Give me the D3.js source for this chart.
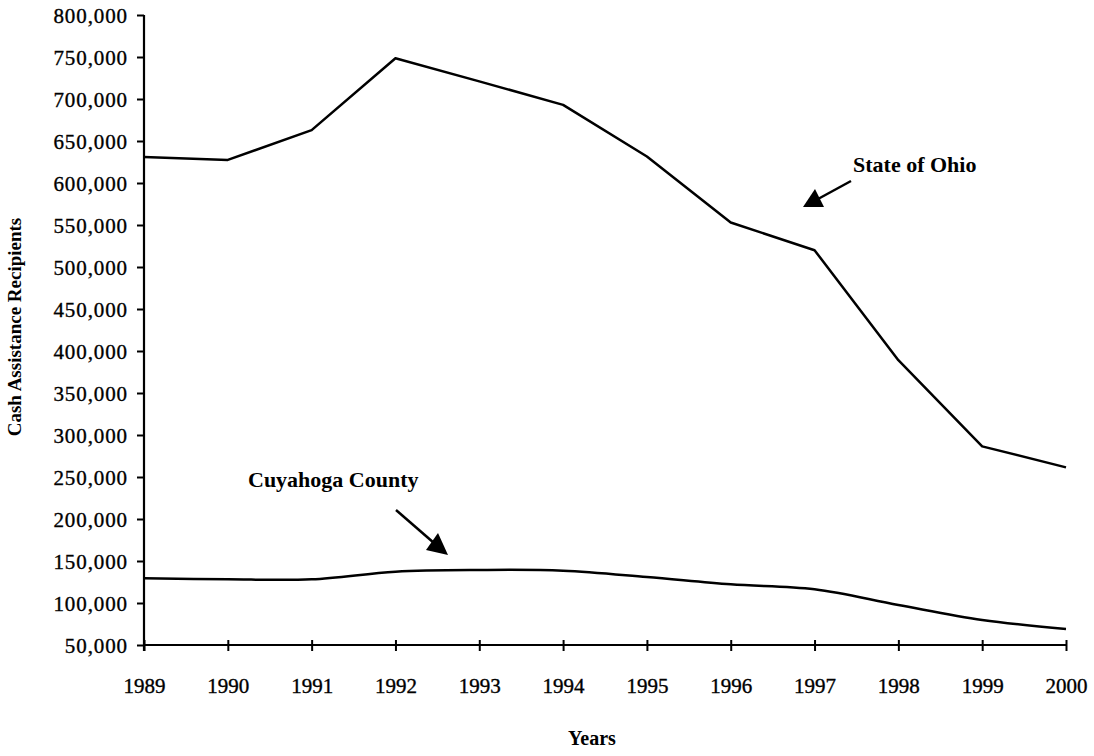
<!DOCTYPE html>
<html>
<head>
<meta charset="utf-8">
<script src="https://cdn.jsdelivr.net/npm/d3@7"></script>
<style>
  body { margin: 0; background: #fff; }
  text { font-family: "Liberation Serif", "Times New Roman", serif; fill: #000; }
</style>
</head>
<body>
<div id="chart"></div>
<script>
const years = [1989, 1990, 1991, 1992, 1993, 1994, 1995, 1996, 1997, 1998, 1999, 2000];
const ohio = [631000, 627500, 663000, 748500, 721000, 693000, 631500, 553000, 520000, 389000, 286500, 261500];
const cuyahoga = [129500, 128200, 128200, 137300, 139300, 138500, 131000, 122200, 116300, 97600, 79800, 69000];
const yTicks = [50000, 100000, 150000, 200000, 250000, 300000, 350000, 400000, 450000, 500000, 550000, 600000, 650000, 700000, 750000, 800000];

const width = 1094, height = 756;
const plotLeft = 144, plotRight = 1066, plotTop = 15, plotBottom = 645;

const svg = d3.select('#chart').append('svg')
  .attr('width', width)
  .attr('height', height);

const x = d3.scaleLinear().domain([1989, 2000]).range([plotLeft, plotRight]);
const y = d3.scaleLinear().domain([50000, 800000]).range([plotBottom, plotTop]);

// y axis
const yAxis = svg.append('g')
  .attr('transform', `translate(${plotLeft},0)`)
  .call(d3.axisLeft(y).tickValues(yTicks).tickSize(7).tickSizeOuter(0).tickFormat(d3.format(',')));
yAxis.select('.domain').remove();
yAxis.selectAll('line').attr('stroke', '#000').attr('stroke-width', 2);
yAxis.selectAll('text')
  .attr('x', -16)
  .attr('dy', '0.34em')
  .style('font-size', '21px')
  .style('letter-spacing', '0.9px')
  .style('stroke', '#000').style('stroke-width', 0.35);
svg.append('line')
  .attr('x1', plotLeft).attr('x2', plotLeft)
  .attr('y1', plotTop).attr('y2', plotBottom + 6)
  .attr('stroke', '#000').attr('stroke-width', 2.2);

// x axis, ticks cross the line
const xAxis = svg.append('g')
  .attr('transform', `translate(0,${plotBottom})`)
  .call(d3.axisBottom(x).tickValues(years).tickSize(6).tickSizeOuter(0).tickFormat(d3.format('d')));
xAxis.select('.domain').remove();
xAxis.selectAll('line').attr('y1', -5).attr('stroke', '#000').attr('stroke-width', 2);
xAxis.selectAll('text')
  .attr('y', 48)
  .attr('dy', 0)
  .style('font-size', '21px')
  .style('stroke', '#000').style('stroke-width', 0.35);
svg.append('line')
  .attr('x1', plotLeft).attr('x2', plotRight)
  .attr('y1', plotBottom).attr('y2', plotBottom)
  .attr('stroke', '#000').attr('stroke-width', 2.2);

// axis titles
svg.append('text')
  .attr('x', 592).attr('y', 745)
  .attr('text-anchor', 'middle')
  .style('font-size', '20px')
  .style('font-weight', 'bold')
  .text('Years');

svg.append('text')
  .attr('transform', 'translate(21,327) rotate(-90)')
  .attr('text-anchor', 'middle')
  .style('font-size', '19px')
  .style('font-weight', 'bold')
  .text('Cash Assistance Recipients');

// the two series
const ohioLine = d3.line().x((d, i) => x(years[i])).y(d => y(d));
const cuyLine = d3.line().x((d, i) => x(years[i])).y(d => y(d)).curve(d3.curveCatmullRom.alpha(0.5));

svg.append('path')
  .attr('d', ohioLine(ohio))
  .attr('fill', 'none').attr('stroke', '#000').attr('stroke-width', 2.5)
  .attr('stroke-linejoin', 'round');
svg.append('path')
  .attr('d', cuyLine(cuyahoga))
  .attr('fill', 'none').attr('stroke', '#000').attr('stroke-width', 2.5);

// annotations with arrows
svg.append('text')
  .attr('x', 853).attr('y', 172)
  .style('font-size', '22px').style('font-weight', 'bold')
  .text('State of Ohio');
svg.append('line')
  .attr('x1', 851).attr('y1', 181).attr('x2', 818).attr('y2', 199)
  .attr('stroke', '#000').attr('stroke-width', 2.5);
svg.append('path')
  .attr('d', 'M803,207 L824,207 L815,189 Z')
  .attr('fill', '#000');

svg.append('text')
  .attr('x', 248).attr('y', 487)
  .style('font-size', '22px').style('font-weight', 'bold')
  .text('Cuyahoga County');
svg.append('line')
  .attr('x1', 396).attr('y1', 510).attr('x2', 434).attr('y2', 543)
  .attr('stroke', '#000').attr('stroke-width', 2.5);
svg.append('path')
  .attr('d', 'M448,555 L426,550 L438,533 Z')
  .attr('fill', '#000');
</script>
</body>
</html>
